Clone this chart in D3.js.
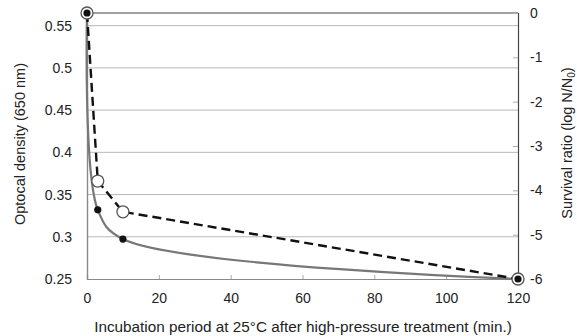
<!DOCTYPE html>
<html><head><meta charset="utf-8">
<script src="https://cdn.jsdelivr.net/npm/d3@7"></script>
<style>body{margin:0;background:#fff}text{font-family:"Liberation Sans",Arial,sans-serif;fill:#222}</style>
</head><body><svg id="c" width="577" height="336"></svg>
<script>
const times = [0, 3, 10, 120];
const opticalDensity = [0.565, 0.366, 0.3296, 0.25];
const survivalRatio = [0, -4.44, -5.1, -6];
const xTicks = [0, 20, 40, 60, 80, 100, 120];
const leftTicks = [0.25, 0.3, 0.35, 0.4, 0.45, 0.5, 0.55];
const rightTicks = [0, -1, -2, -3, -4, -5, -6];

const svg = d3.select("#c");
const L = 87, R = 518, T = 13, B = 279;
const x = d3.scaleLinear().domain([0, 120]).range([L, R]);
const yL = d3.scaleLinear().domain([0.25, 0.565]).range([B, T]);
const yR = d3.scaleLinear().domain([-6, 0]).range([B, T]);
const FF = '"Liberation Sans",Arial,sans-serif';

// gridlines
svg.append("g").selectAll("line").data(leftTicks.filter(d => d > 0.25)).join("line")
  .attr("x1", L).attr("x2", R).attr("y1", d => yL(d)).attr("y2", d => yL(d))
  .attr("stroke", "#b8b8b8").attr("stroke-width", 1);
// top border
svg.append("line").attr("x1", L).attr("x2", R).attr("y1", T).attr("y2", T).attr("stroke", "#444").attr("stroke-width", 1.2);

// axes
const xAxis = d3.axisBottom(x).tickValues(xTicks).tickSize(-4).tickPadding(14).tickFormat(d3.format("d"));
const gx = svg.append("g").attr("transform", `translate(0,${B})`).call(xAxis);
gx.select(".domain").attr("stroke", "#888").attr("stroke-width", 1.2);
gx.selectAll(".tick line").attr("stroke", "#aaa");

const yAxisL = d3.axisLeft(yL).tickValues(leftTicks).tickSize(0).tickPadding(15).tickFormat(d => String(+d.toFixed(2)));
const gl = svg.append("g").attr("transform", `translate(${L},0)`).call(yAxisL);
gl.select(".domain").attr("stroke", "#888").attr("stroke-width", 1.4);

const yAxisR = d3.axisRight(yR).tickValues(rightTicks).tickSize(-5).tickPadding(12).tickFormat(d => d === 0 ? "0" : String(d));
const gr = svg.append("g").attr("transform", `translate(${R},0)`).call(yAxisR);
gr.select(".domain").attr("stroke", "#444").attr("stroke-width", 1.2);
gr.selectAll(".tick line").attr("stroke", "#aaa");
svg.selectAll(".tick text").attr("font-size", 14).attr("fill", "#222").style("font-family", FF);

// solid survival line (smoothed)
const solid = d3.line().x((d, i) => x(times[i])).y(d => yR(d)).curve(d3.curveCatmullRom.alpha(0.5));
svg.append("path").attr("d", solid(survivalRatio)).attr("fill", "none").attr("stroke", "#777").attr("stroke-width", 2.2);

// dashed OD line
const dashed = d3.line().x((d, i) => x(times[i])).y(d => yL(d));
svg.append("path").attr("d", dashed(opticalDensity)).attr("fill", "none").attr("stroke", "#111")
  .attr("stroke-width", 2.4).attr("stroke-dasharray", "9,5");

// open circles
svg.append("g").selectAll("circle").data(opticalDensity).join("circle")
  .attr("cx", (d, i) => x(times[i])).attr("cy", d => yL(d)).attr("r", 6)
  .attr("fill", "#fff").attr("stroke", "#555").attr("stroke-width", 1.3);
// filled dots
svg.append("g").selectAll("circle").data(survivalRatio).join("circle")
  .attr("cx", (d, i) => x(times[i])).attr("cy", d => yR(d)).attr("r", 3.6)
  .attr("fill", "#111");

// axis titles
svg.append("text").attr("x", 303).attr("y", 332).attr("text-anchor", "middle").attr("font-size", 15.3)
  .text("Incubation period at 25°C after high-pressure treatment (min.)");
svg.append("text").attr("transform", "translate(25,144) rotate(-90)").attr("text-anchor", "middle").attr("font-size", 14.5)
  .text("Optocal density (650 nm)");
const rt = svg.append("text").attr("transform", "translate(572,143) rotate(-90)").attr("text-anchor", "middle").attr("font-size", 14.5);
rt.append("tspan").text("Survival ratio (log N/N");
rt.append("tspan").attr("font-size", 10).attr("dy", 3).text("0");
rt.append("tspan").attr("dy", -3).text(")");
</script></body></html>
